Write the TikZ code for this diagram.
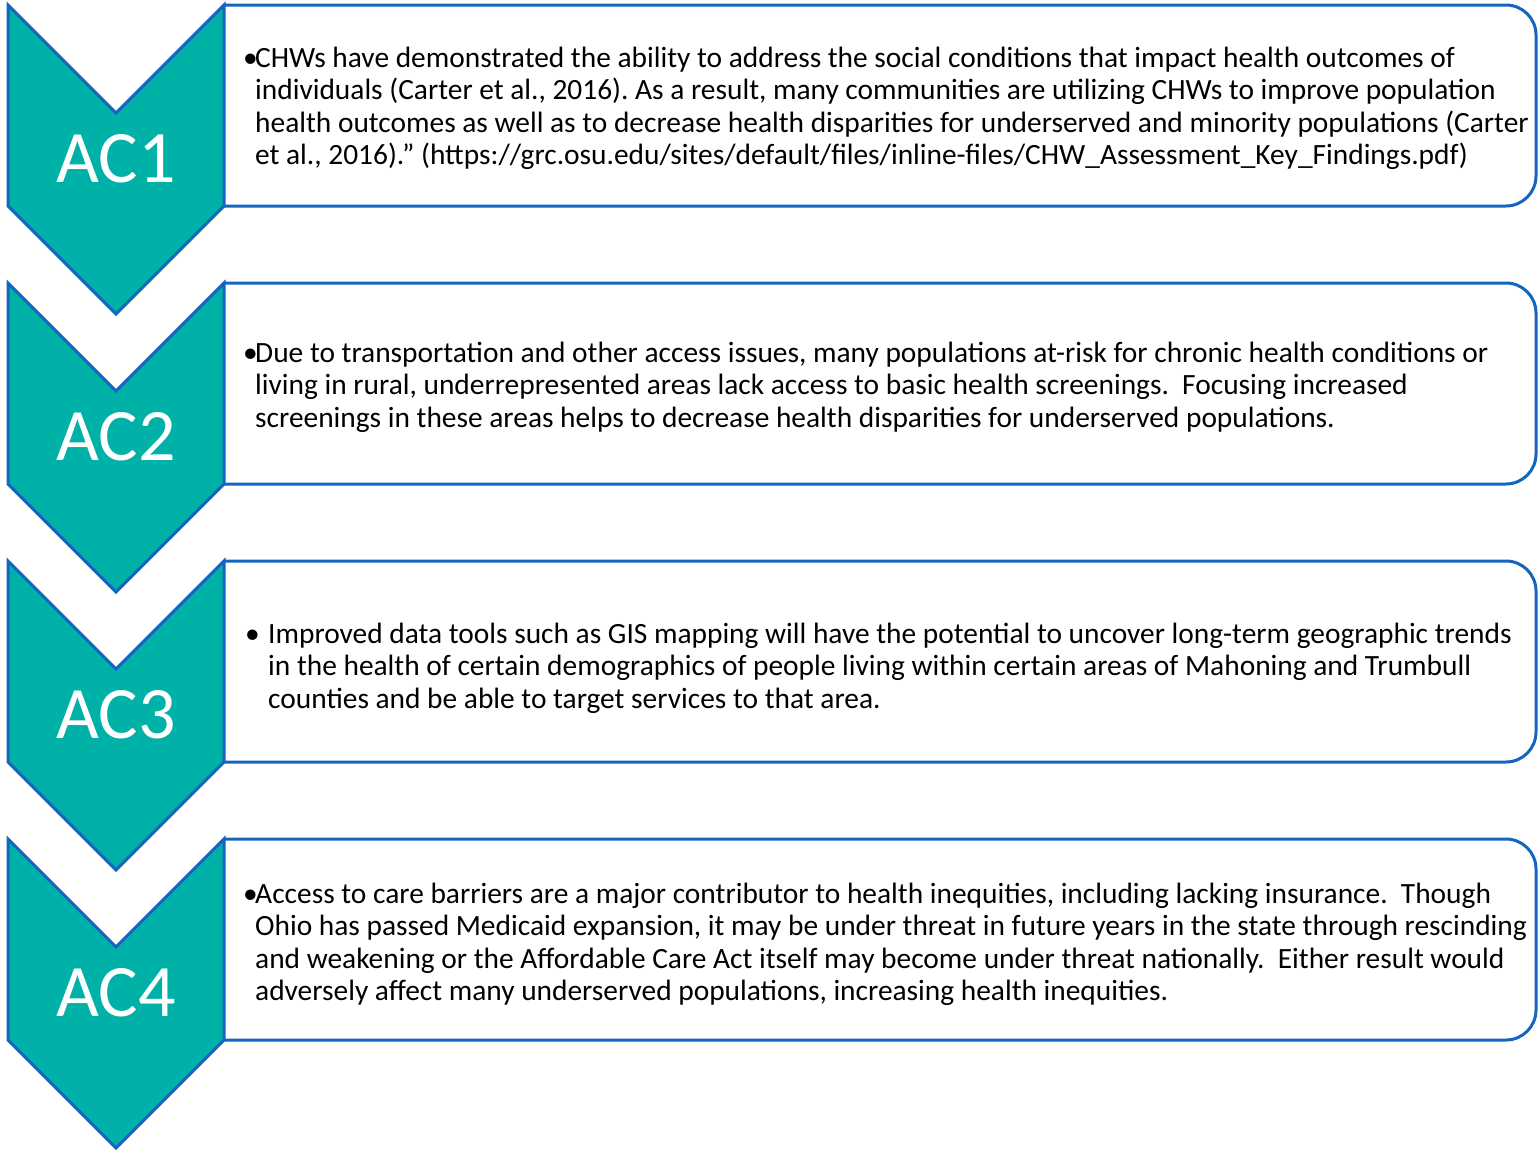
\documentclass[tikz,border=0pt]{standalone}
\usepackage{fontspec}
\setmainfont{Carlito}
\definecolor{tealfill}{RGB}{0,177,168}
\definecolor{edgeblue}{RGB}{21,101,192}
\frenchspacing
\begin{document}
\begin{tikzpicture}[x=1pt,y=-1pt,
  chev/.style={fill=tealfill, draw=edgeblue, line width=3pt, line join=miter},
  panel/.style={draw=edgeblue, line width=3pt, rounded corners=30pt},
  lab/.style={font=\fontsize{74}{80}\selectfont, text=white, anchor=base, inner sep=0pt},
  body/.style={font=\fontsize{29.4}{32.5}\selectfont, anchor=base west, align=left, inner sep=0pt}]
\useasboundingbox (0,0) rectangle (1539,1149);
\foreach \t/\n in {5/1, 283/2, 561/3, 839/4}{
  \draw[panel] (224,\t) -- (1536,\t) -- (1536,\t+201) -- (224,\t+201);
  \draw[chev] (8,\t) -- (116,\t+108) -- (224,\t) -- (224,\t+201) -- (116,\t+309) -- (8,\t+201) -- cycle;
  \node[lab] (ac\n) at (116,\t+177) {AC\n};
}
% anchor = baseline of the last line
\node[body] (t1) at (255,164.5) {\llap{\makebox[12pt][l]{•}}CHWs have demonstrated the ability to address the social conditions that impact health outcomes of\\
individuals (Carter et al., 2016). As a result, many communities are utilizing CHWs to improve population\\
health outcomes as well as to decrease health disparities for underserved and minority populations (Carter\\
et al., 2016).” (https://grc.osu.edu/sites/default/files/inline-files/CHW\_Assessment\_Key\_Findings.pdf)};
\node[body] (t2) at (255,427) {\llap{\makebox[12pt][l]{•}}Due to transportation and other access issues, many populations at-risk for chronic health conditions or\\
living in rural, underrepresented areas lack access to basic health screenings.\ \ Focusing increased\\
screenings in these areas helps to decrease health disparities for underserved populations.};
\node[body] (t3) at (268,708) {\llap{\makebox[23pt][l]{•}}Improved data tools such as GIS mapping will have the potential to uncover long-term geographic trends\\
in the health of certain demographics of people living within certain areas of Mahoning and Trumbull\\
counties and be able to target services to that area.};
\node[body] (t4) at (255,1000.5) {\llap{\makebox[12pt][l]{•}}Access to care barriers are a major contributor to health inequities, including lacking insurance.\ \ Though\\
Ohio has passed Medicaid expansion, it may be under threat in future years in the state through rescinding\\
and weakening or the Affordable Care Act itself may become under threat nationally.\ \ Either result would\\
adversely affect many underserved populations, increasing health inequities.};
\end{tikzpicture}
\end{document}
